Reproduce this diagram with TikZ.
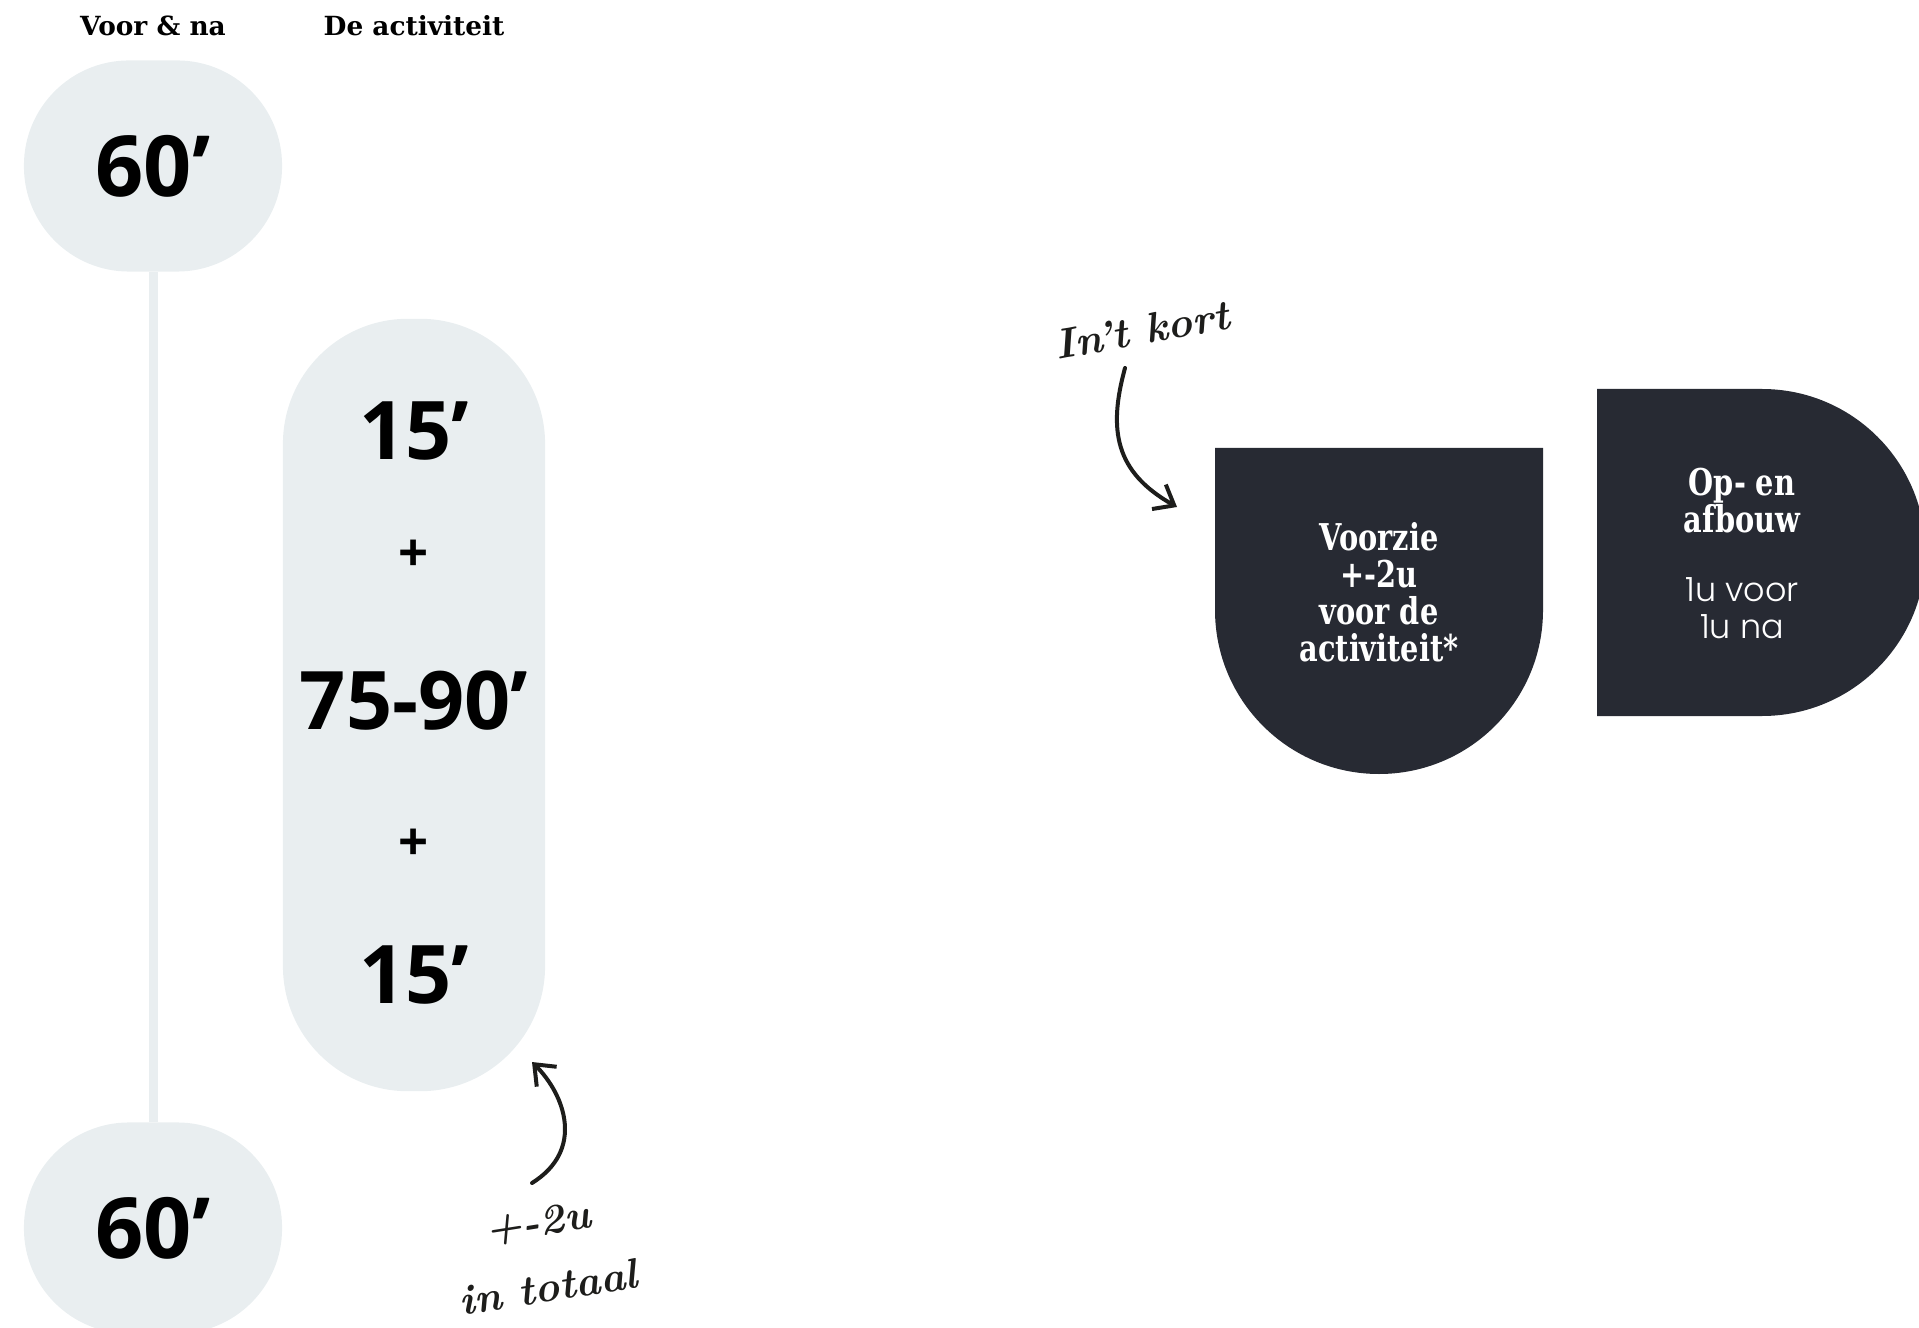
\documentclass[tikz,border=0pt]{standalone}
\usepackage{fontspec}
\usepackage{tikz}
\usetikzlibrary{arrows.meta}
\newfontfamily\numfont{Open Sans}
\newfontfamily\slabfont{DejaVu Serif}
\newfontfamily\slabnarrow{DejaVu Serif}[FakeStretch=0.78]
\newfontfamily\thinfont{Poppins Light}
\definecolor{panelgrey}{HTML}{E9EEF0}
\definecolor{inkdark}{HTML}{272A33}
\definecolor{penblack}{HTML}{1D1D1B}

\tikzset{
  blob/.style={fill=panelgrey, rounded corners=1.05cm, minimum width=2.58cm,
    minimum height=2.11cm, inner sep=0pt, font=\numfont\bfseries\fontsize{24}{28}\selectfont},
  bignum/.style={font=\numfont\bfseries\fontsize{23}{27}\selectfont},
  plus/.style={font=\numfont\bfseries\fontsize{15}{18}\selectfont},
  colhead/.style={font=\slabfont\bfseries\fontsize{7.5}{9}\selectfont},
  boxtitle/.style={text=white, align=center, inner sep=0pt,
    font=\slabnarrow\bfseries\fontsize{10.5}{10.5}\selectfont},
  boxsub/.style={text=white, align=center, inner sep=0pt,
    font=\thinfont\fontsize{9.5}{10.5}\selectfont},
  handtext/.style={text=penblack, align=center, inner sep=0pt,
    font=\bfseries\itshape\fontsize{12}{19}\selectfont},
  hand/.style={penblack, line width=0.04cm, line cap=round,
    -{Straight Barb[length=5pt,width=8pt]}}
}

\begin{document}
\begin{tikzpicture}[x=0.01cm, y=0.01cm]
\useasboundingbox (0,0) rectangle (1919,-1328);

% left column: before & after
\node[colhead] (hdvoor) at (153,-26) {Voor \& na};
\node[colhead] (hdact) at (414,-26) {De activiteit};

\node[blob] (top60) at (153,-166) {60’};
\node[blob] (bot60) at (153,-1228) {60’};
\draw[panelgrey, line width=0.09cm] (top60) -- (bot60);

% the activity itself
\node[fill=panelgrey, rounded corners=1.25cm, minimum width=2.62cm,
  minimum height=7.72cm] (act) at (414,-705) {};
\node[bignum] (start) at (414,-431) {15’};
\node[plus] (plusa) at (414,-556) {+};
\node[bignum] (core) at (414,-701) {75-90’};
\node[plus] (plusb) at (414,-845) {+};
\node[bignum] (stop) at (414,-975) {15’};

\node[handtext, rotate=9] (tot) at (543,-1255) {+-2u\\in totaal};
\coordinate (totfrom) at (532,-1183);
\coordinate (totto) at (532,-1062);
\draw[hand] (totfrom) .. controls (585,-1150) and (565,-1095) .. (totto);

% in short
\node[handtext, rotate=10] (kort) at (1142,-330) {In’t kort};
\coordinate (kortfrom) at (1125,-368);
\coordinate (kortto) at (1177,-507);
\draw[hand] (kortfrom) .. controls (1108,-430) and (1115,-472) .. (kortto);

\fill[inkdark] (1215,-448) -- (1543,-448) -- (1543,-610)
  arc[start angle=0, end angle=-180, radius=164] -- cycle;
\node[boxtitle] (voorzie) at (1379,-592) {Voorzie\\+-2u\\voor de\\activiteit*};

\fill[inkdark] (1597,-389) -- (1762,-389)
  arc[start angle=90, end angle=-90, radius=163.5] -- (1597,-716) -- cycle;
\node[boxtitle] (opaf) at (1742,-501) {Op- en\\afbouw};
\node[boxsub] (opafsub) at (1742,-608) {1u voor\\1u na};
\end{tikzpicture}
\end{document}
